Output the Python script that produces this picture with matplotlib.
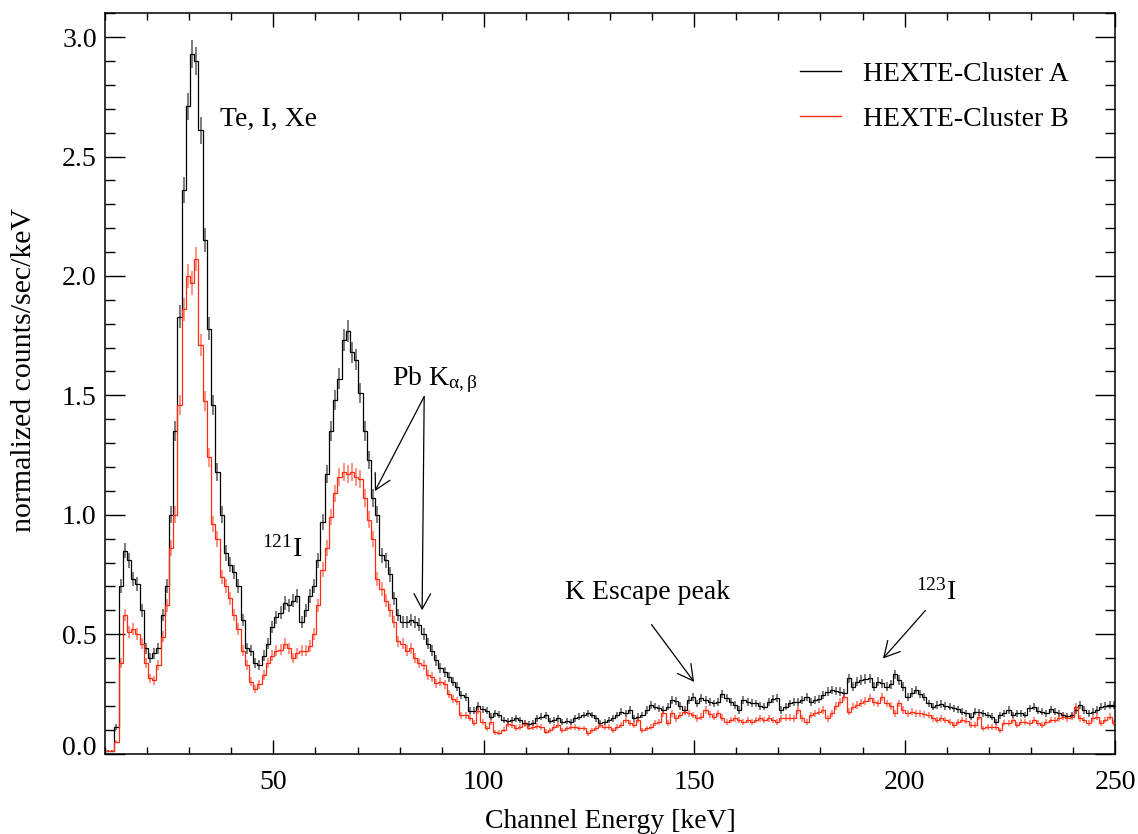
import numpy as np
import matplotlib
matplotlib.use("Agg")
import matplotlib.pyplot as plt
from matplotlib.ticker import MultipleLocator
from matplotlib.transforms import ScaledTranslation

plt.rcParams["font.family"] = ["Liberation Serif", "DejaVu Serif"]
plt.rcParams["mathtext.fontset"] = "custom"
plt.rcParams["mathtext.rm"] = "Liberation Serif"
plt.rcParams["mathtext.it"] = "Liberation Serif:italic"
plt.rcParams["mathtext.bf"] = "Liberation Serif:bold"

# Channel grid: 1 keV channels, first channel centred at 10.7 keV
E_FIRST = 10.7
N_CHAN = 240

# HEXTE Cluster A, normalized counts/sec/keV per channel
cluster_a = [
    0.01, 0.01, 0.11, 0.70, 0.85, 0.81, 0.73, 0.71, 0.60, 0.44,      # 10.7 - 19.7
    0.40, 0.42, 0.44, 0.58, 0.70, 1.00, 1.35, 1.83, 2.36, 2.71,      # 20.7 - 29.7
    2.93, 2.90, 2.61, 2.15, 1.78, 1.46, 1.18, 1.00, 0.84, 0.79,      # 30.7 - 39.7
    0.76, 0.70, 0.56, 0.44, 0.43, 0.38, 0.37, 0.41, 0.46, 0.53,      # 40.7 - 49.7
    0.57, 0.59, 0.63, 0.62, 0.64, 0.66, 0.55, 0.60, 0.66, 0.70,      # 50.7 - 59.7
    0.81, 0.97, 1.17, 1.35, 1.48, 1.57, 1.73, 1.77, 1.68, 1.65,      # 60.7 - 69.7
    1.51, 1.35, 1.23, 1.07, 1.00, 0.83, 0.81, 0.75, 0.65, 0.58,      # 70.7 - 79.7
    0.55, 0.55, 0.56, 0.55, 0.54, 0.50, 0.46, 0.43, 0.39, 0.36,      # 80.7 - 89.7
    0.34, 0.32, 0.30, 0.28, 0.245, 0.235, 0.18, 0.18, 0.20, 0.185,   # 90.7 - 99.7
    0.18, 0.155, 0.168, 0.162, 0.14, 0.135, 0.14, 0.147, 0.14, 0.128,  # 100.7 - 109.7
    0.125, 0.126, 0.147, 0.154, 0.160, 0.137, 0.140, 0.147, 0.130, 0.137,  # 110.7 - 119.7
    0.133, 0.147, 0.155, 0.161, 0.168, 0.161, 0.147, 0.126, 0.133, 0.140,  # 120.7 - 129.7
    0.147, 0.161, 0.175, 0.168, 0.182, 0.147, 0.155, 0.161, 0.182, 0.203,  # 130.7 - 139.7
    0.196, 0.189, 0.182, 0.196, 0.224, 0.221, 0.200, 0.182, 0.224, 0.238,  # 140.7 - 149.7
    0.210, 0.231, 0.224, 0.217, 0.210, 0.217, 0.249, 0.231, 0.215, 0.203,  # 150.7 - 159.7
    0.182, 0.224, 0.217, 0.213, 0.210, 0.200, 0.196, 0.217, 0.227, 0.231,  # 160.7 - 169.7
    0.182, 0.196, 0.210, 0.217, 0.217, 0.224, 0.238, 0.217, 0.224, 0.230,  # 170.7 - 179.7
    0.245, 0.259, 0.266, 0.262, 0.259, 0.252, 0.315, 0.280, 0.300, 0.308,  # 180.7 - 189.7
    0.312, 0.315, 0.280, 0.300, 0.294, 0.280, 0.290, 0.331, 0.308, 0.280,  # 190.7 - 199.7
    0.238, 0.255, 0.266, 0.250, 0.238, 0.210, 0.196, 0.203, 0.207, 0.200,  # 200.7 - 209.7
    0.196, 0.189, 0.185, 0.175, 0.168, 0.154, 0.175, 0.172, 0.168, 0.161,  # 210.7 - 219.7
    0.154, 0.133, 0.160, 0.168, 0.182, 0.161, 0.168, 0.168, 0.161, 0.189,  # 220.7 - 229.7
    0.196, 0.180, 0.175, 0.168, 0.185, 0.175, 0.168, 0.161, 0.157, 0.161,  # 230.7 - 239.7
    0.182, 0.203, 0.182, 0.168, 0.175, 0.182, 0.196, 0.200, 0.203, 0.203,  # 240.7 - 249.7
]

# HEXTE Cluster B, normalized counts/sec/keV per channel
cluster_b = [
    0.01, 0.01, 0.05, 0.38, 0.58, 0.51, 0.52, 0.50, 0.46, 0.38,      # 10.7 - 19.7
    0.315, 0.307, 0.37, 0.49, 0.62, 0.86, 1.00, 1.46, 1.86, 2.00,    # 20.7 - 29.7
    1.97, 2.07, 1.71, 1.475, 1.24, 0.96, 0.90, 0.74, 0.70, 0.65,     # 30.7 - 39.7
    0.58, 0.52, 0.43, 0.37, 0.30, 0.27, 0.29, 0.33, 0.38, 0.41,      # 40.7 - 49.7
    0.43, 0.435, 0.46, 0.44, 0.40, 0.42, 0.43, 0.43, 0.45, 0.50,     # 50.7 - 59.7
    0.62, 0.77, 0.86, 0.99, 1.09, 1.16, 1.18, 1.17, 1.18, 1.16,      # 60.7 - 69.7
    1.15, 1.07, 0.98, 0.90, 0.73, 0.69, 0.64, 0.60, 0.55, 0.47,      # 70.7 - 79.7
    0.46, 0.43, 0.44, 0.40, 0.38, 0.37, 0.33, 0.32, 0.295, 0.30,     # 80.7 - 89.7
    0.29, 0.25, 0.23, 0.22, 0.16, 0.16, 0.15, 0.126, 0.18, 0.13,     # 90.7 - 99.7
    0.105, 0.13, 0.09, 0.088, 0.10, 0.123, 0.12, 0.107, 0.112, 0.125,  # 100.7 - 109.7
    0.108, 0.112, 0.115, 0.112, 0.091, 0.098, 0.112, 0.119, 0.098, 0.105,  # 110.7 - 119.7
    0.109, 0.112, 0.105, 0.105, 0.084, 0.098, 0.105, 0.119, 0.112, 0.112,  # 120.7 - 129.7
    0.098, 0.112, 0.119, 0.140, 0.126, 0.119, 0.140, 0.098, 0.105, 0.112,  # 130.7 - 139.7
    0.126, 0.133, 0.168, 0.126, 0.168, 0.147, 0.161, 0.175, 0.168, 0.161,  # 140.7 - 149.7
    0.147, 0.154, 0.182, 0.165, 0.154, 0.168, 0.150, 0.133, 0.140, 0.147,  # 150.7 - 159.7
    0.140, 0.133, 0.140, 0.133, 0.140, 0.147, 0.140, 0.147, 0.140, 0.133,  # 160.7 - 169.7
    0.147, 0.150, 0.150, 0.147, 0.182, 0.147, 0.133, 0.161, 0.168, 0.175,  # 170.7 - 179.7
    0.182, 0.147, 0.168, 0.200, 0.217, 0.238, 0.175, 0.196, 0.203, 0.213,  # 180.7 - 189.7
    0.220, 0.231, 0.217, 0.210, 0.238, 0.210, 0.200, 0.168, 0.210, 0.182,  # 190.7 - 199.7
    0.168, 0.175, 0.168, 0.168, 0.165, 0.161, 0.147, 0.140, 0.147, 0.140,  # 200.7 - 209.7
    0.133, 0.119, 0.133, 0.140, 0.135, 0.119, 0.119, 0.154, 0.105, 0.112,  # 210.7 - 219.7
    0.112, 0.112, 0.098, 0.126, 0.126, 0.140, 0.119, 0.133, 0.133, 0.126,  # 220.7 - 229.7
    0.140, 0.126, 0.119, 0.133, 0.140, 0.140, 0.147, 0.154, 0.147, 0.154,  # 230.7 - 239.7
    0.196, 0.147, 0.140, 0.126, 0.147, 0.154, 0.126, 0.140, 0.154, 0.126,  # 240.7 - 249.7
]

series_labels = ["HEXTE-Cluster A", "HEXTE-Cluster B"]
series_colors = ["#000000", "#ff2a10"]

x_ticks = [50, 100, 150, 200, 250]
y_ticks = [0.0, 0.5, 1.0, 1.5, 2.0, 2.5, 3.0]

# counting-statistics scale of the error bars (sigma ~ sqrt of the rate)
ERR_SCALE = 0.035

energy = E_FIRST + np.arange(N_CHAN)
edges = np.append(energy - 0.5, energy[-1] + 0.5)
assert len(cluster_a) == N_CHAN and len(cluster_b) == N_CHAN

fig = plt.figure(figsize=(11.38, 8.34), dpi=100)
ax = fig.add_axes([0.0923, 0.0965, 0.8875, 0.8875])

handles = []
for vals, lab, col in zip([cluster_a, cluster_b], series_labels, series_colors):
    v = np.asarray(vals)
    err = ERR_SCALE * np.sqrt(np.clip(v, 0, None))
    ax.errorbar(energy, v, yerr=err, fmt="none", ecolor=col, elinewidth=1.2,
                alpha=0.6, capsize=0, zorder=2)
    ax.stairs(v, edges, color=col, linewidth=0.9, zorder=3, baseline=None)
    h, = ax.plot([], [], color=col, linewidth=1.0, label=lab)
    handles.append(h)

ax.set_xlim(10, 250)
ax.set_ylim(0, 3.1)
ax.set_xticks(x_ticks)
ax.set_yticks(y_ticks)
ax.set_yticklabels([f"{t:.1f}" for t in y_ticks])
ax.xaxis.set_minor_locator(MultipleLocator(10))
ax.yaxis.set_minor_locator(MultipleLocator(0.1))
ax.tick_params(axis="both", which="both", direction="in", top=True, right=True,
               labelsize=20, width=1.0, color="black")
ax.tick_params(axis="x", which="major", length=10, pad=12)
ax.tick_params(axis="x", which="minor", length=5)
ax.tick_params(axis="y", which="major", length=14.5, pad=6)
ax.tick_params(axis="y", which="minor", length=7)
for sp in ax.spines.values():
    sp.set_linewidth(1.1)

# lift the bottom y label clear of the x axis
t0 = ax.yaxis.get_major_ticks()[0].label1
t0.set_transform(t0.get_transform() + ScaledTranslation(0, 8 / 100, fig.dpi_scale_trans))

ax.set_xlabel("Channel Energy [keV]", fontsize=20, labelpad=10)
ax.set_ylabel("normalized counts/sec/keV", fontsize=21.5)
ax.yaxis.set_label_coords(-0.067, 0.518)

ax.legend(handles=handles, loc="center left", bbox_to_anchor=(0.688, 0.8877),
          frameon=False, fontsize=20, borderpad=0, borderaxespad=0,
          handlelength=1.48, handletextpad=0.78, labelspacing=0.7)

# line identifications
ax.text(37.3, 2.628, "Te, I, Xe", fontsize=20, ha="left", va="baseline")
ax.text(47.3, 0.826, r"$^{121}$I", fontsize=20, ha="left", va="baseline")
ax.text(78.3, 1.545, r"Pb K$_{\mathregular{α,β}}$", fontsize=20, ha="left", va="baseline")
ax.text(119.3, 0.646, "K Escape peak", fontsize=20, ha="left", va="baseline")
ax.text(202.6, 0.645, r"$^{123}$I", fontsize=20, ha="left", va="baseline")

arrow_kw = dict(arrowstyle="->,head_length=0.55,head_width=0.3", color="black",
                lw=0.9, shrinkA=0, shrinkB=0, mutation_scale=20)
for start, tip in [((85.84, 1.495), (74.13, 1.099)),
                   ((85.84, 1.495), (85.35, 0.600)),
                   ((139.86, 0.540), (149.98, 0.300)),
                   ((204.94, 0.599), (194.87, 0.398))]:
    ax.annotate("", xy=tip, xytext=start, arrowprops=arrow_kw)

fig.savefig("out.png", dpi=100)
